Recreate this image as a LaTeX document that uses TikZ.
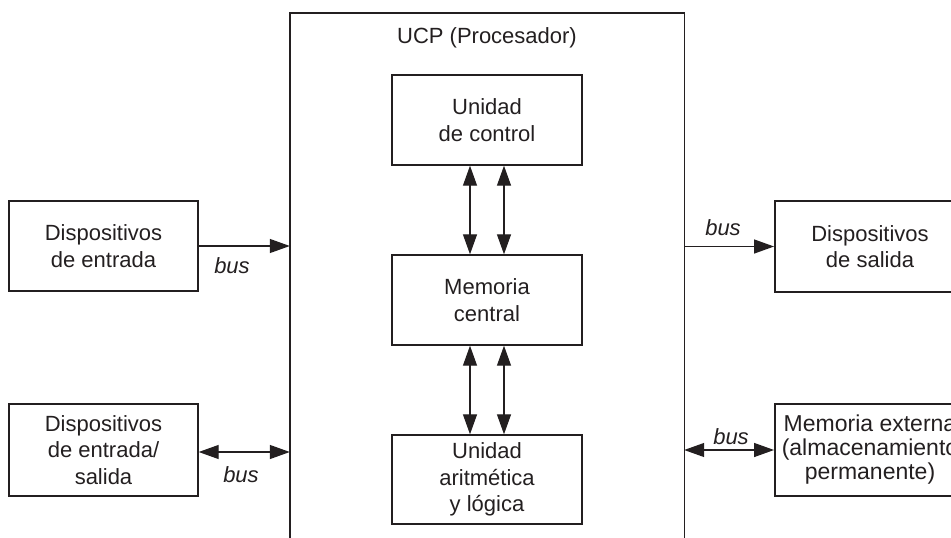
\documentclass[tikz,border=0pt]{standalone}
\usepackage{fontspec}
\setmainfont{Liberation Sans}
\usetikzlibrary{arrows.meta}
\definecolor{ink}{RGB}{35,31,32}
\tikzset{
  blk/.style={draw=ink, line width=1.4pt, text=ink, align=center,
    inner sep=0pt, font=\fontsize{22}{26.5}\selectfont},
  blkr/.style={blk, line width=1.9pt},
  conn/.style={draw=ink, line width=1.3pt,
    -{Triangle[length=20pt,width=14pt]}},
  biconn/.style={draw=ink, line width=1.3pt,
    {Triangle[length=20pt,width=14pt]}-{Triangle[length=20pt,width=14pt]}},
  buslbl/.style={text=ink, font=\fontsize{22}{26}\selectfont\itshape, inner sep=0pt},
}
\begin{document}
\begin{tikzpicture}[x=1pt,y=-1pt]
  \useasboundingbox (0,0) rectangle (951,538);
  \clip (0,0) rectangle (951,538);

  % processor frame, open at the bottom
  \node[minimum width=394pt, minimum height=530pt, inner sep=0pt] (ucp) at (487,278) {};
  \draw[ink, line width=1.4pt] (ucp.south west) -- (ucp.north west) -- (ucp.north east) -- (ucp.south east);
  \node[text=ink, font=\fontsize{22}{26}\selectfont] (ucplbl) at (487,38) {UCP (Procesador)};

  % inner units
  \node[blk, minimum width=190pt, minimum height=90pt] (uc) at (487,120) {Unidad\\de control};
  \node[blk, minimum width=190pt, minimum height=90pt] (mc) at (487,300) {Memoria\\central};
  \node[blk, minimum width=190pt, minimum height=89pt] (alu) at (487,479.5) {Unidad\\aritmética\\y lógica};

  % peripherals
  \node[blk, minimum width=189pt, minimum height=90pt] (in) at (103.5,246) {Dispositivos\\de entrada};
  \node[blk, minimum width=189pt, minimum height=92pt] (io) at (103.5,450) {Dispositivos\\de entrada/\\salida};
  \node[blkr, minimum width=190pt, minimum height=91pt] (out) at (870,246.5) {Dispositivos\\de salida};
  \node[blkr, minimum width=190pt, minimum height=92pt, font=\fontsize{23}{24}\selectfont] (ext) at (870,450)
    {Memoria externa\\(almacenamiento\\permanente)};

  % internal links
  \draw[biconn] ([xshift=-17pt]uc.south) -- ([xshift=-17pt]mc.north);
  \draw[biconn] ([xshift=17pt]uc.south) -- ([xshift=17pt]mc.north);
  \draw[biconn] ([xshift=-17pt]mc.south) -- ([xshift=-17pt]alu.north);
  \draw[biconn] ([xshift=17pt]mc.south) -- ([xshift=17pt]alu.north);

  % buses
  \coordinate (inp) at (in.east -| ucp.west);
  \coordinate (iop) at ([yshift=-2pt]io.east -| ucp.west);
  \coordinate (outp) at (out.west -| ucp.east);
  \coordinate (extp) at (ext.west -| ucp.east);
  \draw[conn] (in.east) -- (inp);
  \draw[biconn] ([yshift=-2pt]io.east) -- (iop);
  \draw[conn] (outp) -- (out.west);
  \draw[biconn] (extp) -- (ext.west);

  \node[buslbl] (b1) at (232,266) {bus};
  \node[buslbl] (b2) at (241,475) {bus};
  \node[buslbl] (b3) at (723,228) {bus};
  \node[buslbl] (b4) at (731,437) {bus};
\end{tikzpicture}
\end{document}
